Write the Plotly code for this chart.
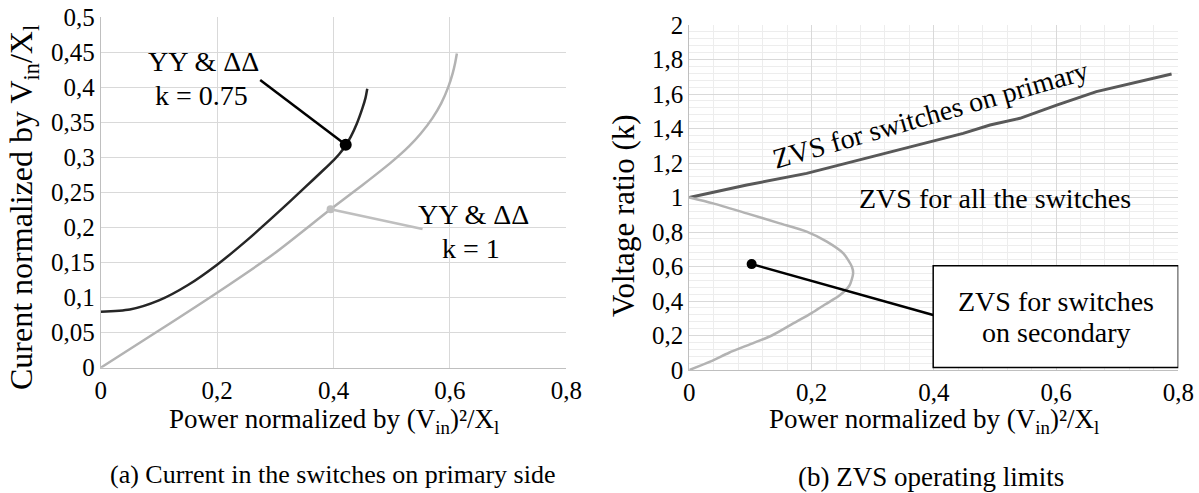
import plotly.graph_objects as go

# ---------------- data ----------------
# (a) current in switches, YY & DD, k = 0.75
k075_x = [0, 0.05, 0.10, 0.15, 0.20, 0.25, 0.30, 0.35, 0.38, 0.40, 0.41, 0.42, 0.43, 0.44, 0.45, 0.455, 0.458]
k075_y = [0.080, 0.083, 0.096, 0.118, 0.147, 0.181, 0.218, 0.2565, 0.280, 0.296, 0.305, 0.316, 0.330, 0.348, 0.371, 0.385, 0.398]
# (a) YY & DD, k = 1
k1_x = [0, 0.10, 0.20, 0.30, 0.395, 0.45, 0.50, 0.53, 0.55, 0.57, 0.585, 0.597, 0.605, 0.609, 0.612]
k1_y = [0, 0.053, 0.107, 0.164, 0.226, 0.2607, 0.2937, 0.3162, 0.3342, 0.3562, 0.3772, 0.400, 0.4208, 0.4348, 0.4483]

# annotation markers / leader lines (a)
dot075 = (0.421, 0.318)
lead075 = ([0.274, 0.421], [0.4105, 0.318])
dot1 = (0.395, 0.226)
lead1 = ([0.395, 0.553], [0.226, 0.198])

# (b) ZVS limits
prim_x = [0, 0.094, 0.192, 0.257, 0.339, 0.448, 0.492, 0.541, 0.601, 0.666, 0.789]
prim_y = [1.0, 1.072, 1.140, 1.198, 1.275, 1.372, 1.420, 1.459, 1.536, 1.614, 1.716]
sec_x = [0, 0.039, 0.094, 0.148, 0.192, 0.225, 0.252, 0.266, 0.268, 0.262, 0.245, 0.222, 0.200, 0.170, 0.135, 0.100, 0.065, 0.035, 0]
sec_y = [1.0, 0.966, 0.908, 0.850, 0.802, 0.744, 0.676, 0.599, 0.560, 0.490, 0.430, 0.380, 0.330, 0.270, 0.200, 0.150, 0.100, 0.050, 0]
dotb = (0.102, 0.614)
leadb = ([0.102, 0.399], [0.614, 0.319])
box_b = (0.399, 0.80, 0.015, 0.605)

# tick labels
ax_x_vals = [0, 0.2, 0.4, 0.6, 0.8]
ax_x_text = ["0", "0,2", "0,4", "0,6", "0,8"]
ay_vals = [0, 0.05, 0.1, 0.15, 0.2, 0.25, 0.3, 0.35, 0.4, 0.45, 0.5]
ay_text = ["0", "0,05", "0,1", "0,15", "0,2", "0,25", "0,3", "0,35", "0,4", "0,45", "0,5"]
bx_vals = ax_x_vals
bx_text = ax_x_text
by_vals = [0, 0.2, 0.4, 0.6, 0.8, 1.0, 1.2, 1.4, 1.6, 1.8, 2.0]
by_text = ["0", "0,2", "0,4", "0,6", "0,8", "1", "1,2", "1,4", "1,6", "1,8", "2"]
bx_minor = [i * 0.04 for i in range(21)]
by_minor = [i * 0.04 for i in range(51)]

# ---------------- figure ----------------
W, H = 1199, 493
FONT = "Liberation Serif"

def px(x):
    return x / W

def py(y):
    return 1 - y / H

fig = go.Figure()

def line(xs, ys, color, width, ax, shape="linear"):
    fig.add_trace(go.Scatter(x=xs, y=ys, mode="lines",
                             line=dict(color=color, width=width, shape=shape,
                                       **({"smoothing": 0.7} if shape == "spline" else {})),
                             xaxis="x" + ax, yaxis="y" + ax, hoverinfo="skip"))

def dot(p, color, size, ax):
    fig.add_trace(go.Scatter(x=[p[0]], y=[p[1]], mode="markers", marker=dict(color=color, size=size),
                             xaxis="x" + ax, yaxis="y" + ax, hoverinfo="skip"))

line(k075_x, k075_y, "#262626", 2.5, "", "spline")
line(k1_x, k1_y, "#b3b3b3", 2.5, "", "spline")
line(lead075[0], lead075[1], "#000000", 2.5, "")
line(lead1[0], lead1[1], "#bfbfbf", 2.5, "")
dot(dot075, "#000000", 12, "")
dot(dot1, "#bfbfbf", 8, "")

line(prim_x, prim_y, "#595959", 3, "2")
line(sec_x, sec_y, "#b3b3b3", 2.5, "2", "spline")
line(leadb[0], leadb[1], "#000000", 2.5, "2")
dot(dotb, "#000000", 10, "2")

tickfont = dict(family=FONT, size=25, color="#000000")
common = dict(showline=True, linecolor="#bfbfbf", linewidth=1, zeroline=False, ticks="",
              tickfont=tickfont, fixedrange=True, automargin=False,
              showgrid=True, gridcolor="#d9d9d9", gridwidth=1)

fig.update_layout(
    width=W, height=H,
    margin=dict(l=0, r=0, t=0, b=0, autoexpand=False),
    paper_bgcolor="white", plot_bgcolor="white",
    showlegend=False,
    font=dict(family=FONT, size=22, color="#000000"),
    xaxis=dict(domain=[px(100.7), px(566.3)], range=[0, 0.8], tickvals=ax_x_vals, ticktext=ax_x_text,
               anchor="y", **common),
    yaxis=dict(domain=[py(367.7), py(17.3)], range=[0, 0.5], tickvals=ay_vals, ticktext=ay_text,
               anchor="x", **common),
    xaxis2=dict(domain=[px(689.3), px(1178.3)], range=[0, 0.8], tickvals=bx_vals, ticktext=bx_text,
                anchor="y2",
                minor=dict(tickvals=bx_minor, showgrid=True, gridcolor="#ededed", gridwidth=1),
                **common),
    yaxis2=dict(domain=[py(370), py(25)], range=[0, 2], tickvals=by_vals, ticktext=by_text,
                anchor="x2",
                minor=dict(tickvals=by_minor, showgrid=True, gridcolor="#ededed", gridwidth=1),
                **common),
)

# box in (b)
fig.add_shape(type="rect", xref="x2", yref="y2", x0=box_b[0], x1=box_b[1], y0=box_b[2], y1=box_b[3],
              line=dict(color="#000000", width=1.5), fillcolor="white", layer="above")

ann = []
def A(text, x, y, xref, yref, size=28, angle=0):
    ann.append(dict(text=text, x=x, y=y, xref=xref, yref=yref, showarrow=False,
                    font=dict(family=FONT, size=size, color="#000000"), textangle=angle,
                    xanchor="center", yanchor="middle"))

# chart (a) labels
A("YY &amp; ΔΔ", 0.1765, 0.437, "x", "y")
A("k = 0.75", 0.1736, 0.389, "x", "y")
A("YY &amp; ΔΔ", 0.640, 0.219, "x", "y")
A("k = 1", 0.637, 0.170, "x", "y")
# chart (b) labels
A("ZVS for switches on primary", 0.395, 1.484, "x2", "y2", size=28, angle=-16)
A("ZVS for all the switches", 0.500, 0.995, "x2", "y2", size=28)
A("ZVS for switches", 0.600, 0.400, "x2", "y2", size=28)
A("on secondary", 0.600, 0.216, "x2", "y2", size=28)

# axis titles
A("Curent normalized by V<sub>in</sub>/X<sub>l</sub>", px(23), py(208), "paper", "paper", size=32, angle=-90)
A("Power normalized by (V<sub>in</sub>)²/X<sub>l</sub>", px(333.5), py(421), "paper", "paper", size=27)
A("Voltage ratio (k)", px(623), py(216), "paper", "paper", size=31, angle=-90)
A("Power normalized by (V<sub>in</sub>)²/X<sub>l</sub>", px(934), py(421), "paper", "paper", size=27)
# captions
A("(a) Current in the switches on primary side", px(333), py(474), "paper", "paper", size=26)
A("(b) ZVS operating limits", px(931), py(477), "paper", "paper", size=27)

fig.update_layout(annotations=ann)

fig.write_html("out.html",
               config={"displayModeBar": False},
               post_script="document.body.style.margin='0';document.body.style.padding='0';"
                           "document.body.style.overflow='hidden';")
